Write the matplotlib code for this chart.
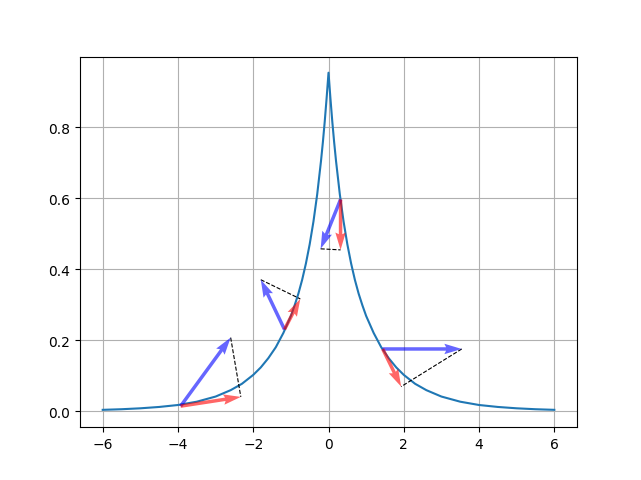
import matplotlib
matplotlib.use("Agg")
import matplotlib.pyplot as plt

# curve
curve_x = [-6, -5.5, -5, -4.5, -4, -3.5, -3, -2.6, -2.3, -2, -1.8, -1.6, -1.4, -1.2, -1,
           -0.9, -0.8, -0.7, -0.6, -0.5, -0.4, -0.3, -0.2, -0.15, -0.1, -0.05, 0,
           0.05, 0.1, 0.15, 0.2, 0.3, 0.4, 0.5, 0.6, 0.7, 0.8, 0.9, 1, 1.2, 1.4, 1.6,
           1.8, 2, 2.3, 2.6, 3, 3.5, 4, 4.5, 5, 5.5, 6]
curve_y = [0.0036, 0.0053, 0.0079, 0.0117, 0.0172, 0.0265, 0.041, 0.059, 0.077, 0.102,
           0.123, 0.149, 0.180, 0.220, 0.268, 0.298, 0.331, 0.370, 0.416, 0.470, 0.534,
           0.611, 0.704, 0.757, 0.816, 0.882, 0.953,
           0.882, 0.816, 0.757, 0.704, 0.611, 0.534, 0.470, 0.416, 0.370, 0.331, 0.298,
           0.268, 0.220, 0.180, 0.149, 0.123, 0.102, 0.077, 0.059, 0.041, 0.0265, 0.0172,
           0.0117, 0.0079, 0.0053, 0.0036]

# arrow starts (on the curve) and tips
start_x = [-3.93, -1.17, 0.32, 1.44]
start_y = [0.014, 0.230, 0.596, 0.175]
blue_tip_x = [-2.60, -1.80, -0.21, 3.54]
blue_tip_y = [0.207, 0.370, 0.457, 0.175]
red_tip_x = [-2.33, -0.75, 0.32, 1.93]
red_tip_y = [0.040, 0.316, 0.454, 0.069]

fig, ax = plt.subplots(figsize=(6.41, 4.81), dpi=100)
ax.plot(curve_x, curve_y)

for i in range(len(start_x)):
    ax.plot([blue_tip_x[i], red_tip_x[i]], [blue_tip_y[i], red_tip_y[i]], 'k--', lw=0.8)

bu = [b - s for b, s in zip(blue_tip_x, start_x)]
bv = [b - s for b, s in zip(blue_tip_y, start_y)]
ru = [r - s for r, s in zip(red_tip_x, start_x)]
rv = [r - s for r, s in zip(red_tip_y, start_y)]
ax.quiver(start_x, start_y, bu, bv, angles='xy', scale_units='xy', scale=1,
          color='blue', alpha=0.6, width=0.007, zorder=3)
ax.quiver(start_x, start_y, ru, rv, angles='xy', scale_units='xy', scale=1,
          color='red', alpha=0.6, width=0.007, zorder=3)

ax.set_xlim(-6.6, 6.6)
ax.set_ylim(-0.045, 0.998)
ax.grid(True)
fig.savefig("out.png")
